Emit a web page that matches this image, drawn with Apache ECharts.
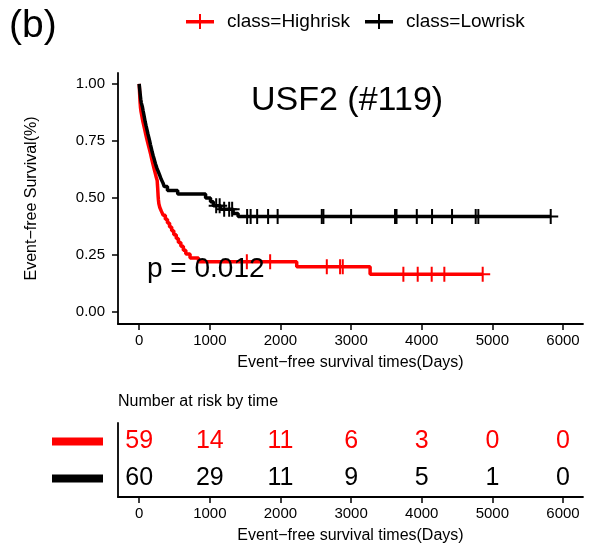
<!DOCTYPE html>
<html lang="en">
<head>
    <meta charset="UTF-8">
    <title>USF2 (#119)</title>
    <script src="https://cdn.jsdelivr.net/npm/echarts@6/dist/echarts.min.js"></script>
    <style>
        html, body { margin: 0; padding: 0; background: #fff; }
    </style>
</head>
<body>
    <div id="main" style="width: 590px;height:548px;"></div>
<script type="text/javascript">

    // time axis ticks and survival ticks
    var timeTicks = [0, 1000, 2000, 3000, 4000, 5000, 6000];
    var survTicks = [0, 0.25, 0.5, 0.75, 1];

    // Highrisk step curve (time, survival after that time)
    var highTimes = [0, 3, 5, 8, 10, 14, 18, 25, 35, 45, 55, 68, 80, 92, 105, 118, 132, 146, 160, 172,
        185, 198, 212, 226, 240, 255, 258, 262, 265, 268, 272, 278, 292, 315, 340, 370, 400, 430, 460, 490,
        525, 555, 590, 625, 660, 720, 840, 2230, 3269, 4863];
    var highSurv = [1, 0.983, 0.966, 0.949, 0.932, 0.915, 0.898, 0.881, 0.864, 0.847, 0.831, 0.814, 0.797, 0.780, 0.763, 0.746, 0.729, 0.712, 0.695, 0.678,
        0.661, 0.644, 0.627, 0.610, 0.593, 0.576, 0.559, 0.542, 0.525, 0.508, 0.492, 0.475, 0.458, 0.441, 0.424, 0.407, 0.390, 0.373, 0.356, 0.339,
        0.322, 0.305, 0.288, 0.271, 0.254, 0.237, 0.220, 0.198, 0.165, 0.165];
    var highCensor = [1524, 1854, 2656, 2844, 2882, 3740, 3943, 4141, 4320, 4863];

    // Lowrisk step curve
    var lowTimes = [0, 5, 10, 16, 22, 30, 45, 55, 65, 75, 85, 97, 110, 122, 135, 148, 160, 172, 185, 200,
        215, 230, 248, 268, 290, 310, 335, 355, 400, 545, 940, 1010, 1050, 1150, 1330, 1400, 5826];
    var lowSurv = [1, 0.983, 0.967, 0.95, 0.933, 0.917, 0.9, 0.883, 0.867, 0.85, 0.833, 0.817, 0.8, 0.783, 0.767, 0.75, 0.733, 0.717, 0.7, 0.683,
        0.667, 0.65, 0.633, 0.617, 0.6, 0.583, 0.567, 0.55, 0.533, 0.517, 0.5, 0.483, 0.466, 0.45, 0.432, 0.418, 0.418];
    var lowCensor = [1090, 1139, 1203, 1274, 1316, 1528, 1578, 1670, 1825, 1960, 2585, 2608, 3000, 3622, 3643, 3930, 4146, 4429, 4764, 4801, 5826];

    // number at risk table
    var riskGroups = ['Lowrisk', 'Highrisk'];
    var highAtRisk = [59, 14, 11, 6, 3, 0, 0];
    var lowAtRisk = [60, 29, 11, 9, 5, 1, 0];

    var RED = '#ff0000';
    var BLACK = '#000000';
    var FONT = '"Liberation Sans", Arial, sans-serif';

    function pairs(ts, ss) {
        return ts.map(function (t, i) { return [t, ss[i]]; });
    }
    // survival level of a step curve at time t
    function survAt(ts, ss, t) {
        var v = ss[0];
        for (var i = 0; i < ts.length; i++) {
            if (ts[i] <= t) v = ss[i];
        }
        return v;
    }
    function censorPts(cs, ts, ss) {
        return cs.map(function (t) { return [t, survAt(ts, ss, t)]; });
    }

    var plusMark = 'path://M0,6.5H15V8.5H0Z M6.5,0H8.5V15H6.5Z';
    var legendIcon = 'path://M0,6H28V9.5H0Z M13,0H15V15H13Z';

    var axisText = { color: '#000', fontSize: 15, fontFamily: FONT };
    var axisName = { color: '#000', fontSize: 16, fontFamily: FONT };

    function timeAxis(gi) {
        return {
            type: 'value', gridIndex: gi, min: -300, max: 6283,
            name: 'Event\u2212free survival times(Days)', nameLocation: 'middle', nameGap: 31,
            nameTextStyle: axisName,
            axisLine: { show: true, onZero: false, lineStyle: { color: '#000', width: 1.8 } },
            axisTick: { show: true, length: 6, lineStyle: { color: '#000', width: 1.5 }, customValues: timeTicks },
            axisLabel: Object.assign({
                margin: 9, customValues: timeTicks,
                formatter: function (v) { return String(v); }
            }, axisText),
            splitLine: { show: false }
        };
    }

    var myChart = echarts.init(document.getElementById('main'));

    var option = {
        animation: false,
        backgroundColor: '#fff',
        legend: {
            left: 181, top: 7, itemWidth: 28, itemHeight: 15, itemGap: 15,
            textStyle: { color: '#000', fontSize: 19, fontFamily: FONT, padding: [0, 0, 0, 8] },
            data: [
                { name: 'class=Highrisk', icon: legendIcon },
                { name: 'class=Lowrisk', icon: legendIcon }
            ]
        },
        grid: [
            { left: 118, right: 7, top: 73, height: 251 },
            { left: 118, right: 7, top: 423, height: 74 }
        ],
        xAxis: [timeAxis(0), timeAxis(1)],
        yAxis: [
            {
                type: 'value', gridIndex: 0, min: -0.053, max: 1.048,
                name: 'Event\u2212free Survival(%)', nameLocation: 'middle', nameGap: 78,
                nameTextStyle: axisName,
                axisLine: { show: true, onZero: false, lineStyle: { color: '#000', width: 1.8 } },
                axisTick: { show: true, length: 6, lineStyle: { color: '#000', width: 1.5 }, customValues: survTicks },
                axisLabel: Object.assign({
                    margin: 13, customValues: survTicks,
                    formatter: function (v) { return v.toFixed(2); }
                }, axisText),
                splitLine: { show: false }
            },
            {
                type: 'category', gridIndex: 1, data: riskGroups,
                axisLine: { show: true, onZero: false, lineStyle: { color: '#000', width: 1.8 } },
                axisTick: { show: false },
                axisLabel: {
                    margin: 15,
                    formatter: function (v) { return v === 'Highrisk' ? '{hi| }' : '{lo| }'; },
                    rich: {
                        hi: { backgroundColor: RED, width: 51, height: 8, fontSize: 1 },
                        lo: { backgroundColor: BLACK, width: 51, height: 8, fontSize: 1 }
                    }
                },
                splitLine: { show: false }
            }
        ],
        graphic: [
            { type: 'text', left: 9, top: 7, style: { text: '(b)', fontSize: 39, fontFamily: FONT, fill: '#000' } },
            { type: 'text', left: 251, top: 84, z: 100, style: { text: 'USF2 (#119)', fontSize: 34, fontFamily: FONT, fill: '#000' } },
            { type: 'text', left: 147, top: 255, z: 100, style: { text: 'p = 0.012', fontSize: 28, fontFamily: FONT, fill: '#000' } },
            { type: 'text', left: 118, top: 394, style: { text: 'Number at risk by time', fontSize: 16, fontFamily: FONT, fill: '#000' } }
        ],
        series: [
            {
                name: 'class=Highrisk', type: 'line', step: 'end', xAxisIndex: 0, yAxisIndex: 0,
                showSymbol: false, data: pairs(highTimes, highSurv),
                itemStyle: { color: RED }, lineStyle: { color: RED, width: 3.5 }
            },
            {
                name: 'high censor', type: 'scatter', xAxisIndex: 0, yAxisIndex: 0,
                symbol: plusMark, symbolSize: 15, data: censorPts(highCensor, highTimes, highSurv),
                itemStyle: { color: RED, opacity: 1 }
            },
            {
                name: 'class=Lowrisk', type: 'line', step: 'end', xAxisIndex: 0, yAxisIndex: 0,
                showSymbol: false, data: pairs(lowTimes, lowSurv),
                itemStyle: { color: BLACK }, lineStyle: { color: BLACK, width: 3.5 }
            },
            {
                name: 'low censor', type: 'scatter', xAxisIndex: 0, yAxisIndex: 0,
                symbol: plusMark, symbolSize: 15, data: censorPts(lowCensor, lowTimes, lowSurv),
                itemStyle: { color: BLACK, opacity: 1 }
            },
            {
                name: 'high at risk', type: 'scatter', xAxisIndex: 1, yAxisIndex: 1,
                symbolSize: 1, itemStyle: { color: 'transparent', opacity: 1 },
                data: timeTicks.map(function (t, i) { return [t, 'Highrisk', highAtRisk[i]]; }),
                label: { show: true, position: 'inside', formatter: function (p) { return p.value[2]; },
                    color: RED, fontSize: 25, fontFamily: FONT }
            },
            {
                name: 'low at risk', type: 'scatter', xAxisIndex: 1, yAxisIndex: 1,
                symbolSize: 1, itemStyle: { color: 'transparent', opacity: 1 },
                data: timeTicks.map(function (t, i) { return [t, 'Lowrisk', lowAtRisk[i]]; }),
                label: { show: true, position: 'inside', formatter: function (p) { return p.value[2]; },
                    color: BLACK, fontSize: 25, fontFamily: FONT }
            }
        ]
    };
    myChart.setOption(option);

</script>
</body>
</html>
